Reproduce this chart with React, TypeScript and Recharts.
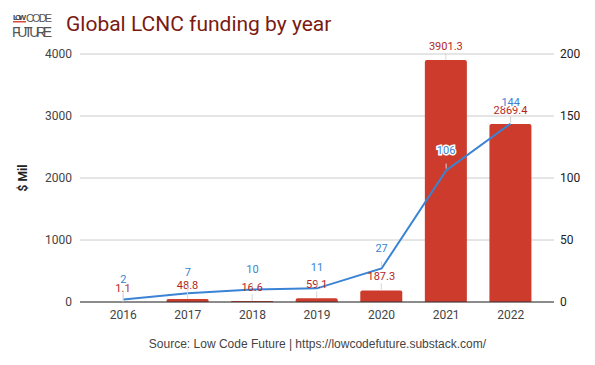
import { ComposedChart, Bar, Line, XAxis, YAxis, CartesianGrid, LabelList } from "recharts";

const years = ["2016", "2017", "2018", "2019", "2020", "2021", "2022"];
const fundingMil = [1.1, 48.8, 16.6, 59.1, 187.3, 3901.3, 2869.4];
const dealCount = [2, 7, 10, 11, 27, 106, 144];
const leftTicks = [0, 1000, 2000, 3000, 4000];
const rightTicks = [0, 50, 100, 150, 200];

const data = years.map((year, i) => ({ year, funding: fundingMil[i], deals: dealCount[i] }));

const BAR_RED = "#cc3b2b";
const LINE_BLUE = "#3b83d4";
const FONT = "Roboto, Arial, sans-serif";

function BarLabel(props: any) {
  const { x, y, width, value } = props;
  const cx = x + width / 2;
  return (
    <g>
      <line x1={cx} x2={cx} y1={y} y2={y - 7} stroke="#d6d6d6" strokeWidth={1} />
      <text x={cx} y={y - 10} textAnchor="middle" fontSize={11} fill="#b3261e" fontFamily={FONT}>
        {value}
      </text>
    </g>
  );
}

function LineLabel(props: any) {
  const { x, y, value } = props;
  return (
    <g>
      <line x1={x} x2={x} y1={y - 2} y2={y - 7} stroke="#d6d6d6" strokeWidth={1} />
      <text
        x={x}
        y={y - 17}
        textAnchor="middle"
        fontSize={11}
        fill={LINE_BLUE}
        stroke="#fff"
        strokeWidth={3}
        paintOrder="stroke"
        fontFamily={FONT}
      >
        {value}
      </text>
    </g>
  );
}

export default function App() {
  return (
    <div style={{ position: "absolute", left: 0, top: 0, width: 595, height: 365, background: "#fff", fontFamily: FONT }}>
      <svg width={60} height={44} style={{ position: "absolute", left: 0, top: 0 }}>
        <text x={13} y={20} fontSize={8} fontWeight="bold" fill="#444" fontFamily="Liberation Sans Narrow, Arial" textLength={13}>
          LOW
        </text>
        <rect x={13} y={21} width={13} height={1.5} fill="#d9483b" />
        <text x={26} y={22} fontSize={11} fill="#555" fontFamily="Liberation Sans Narrow, Arial" textLength={26}>
          CODE
        </text>
        <text x={12} y={37} fontSize={14} fill="#555" fontFamily="Liberation Sans Narrow, Arial" textLength={40}>
          FUTURE
        </text>
      </svg>
      <div
        style={{
          position: "absolute",
          left: 66,
          top: 12,
          fontSize: 21,
          color: "#7a1a12",
          fontFamily: FONT,
          whiteSpace: "nowrap",
        }}
      >
        Global LCNC funding by year
      </div>
      <ComposedChart
        width={595}
        height={365}
        data={data}
        margin={{ top: 54, right: 0, left: 0, bottom: 33 }}
        barSize={42}
      >
        <CartesianGrid vertical={false} stroke="#cccccc" yAxisId="left" />
        <XAxis
          dataKey="year"
          tickLine={false}
          axisLine={{ stroke: "#333", strokeWidth: 1 }}
          tick={{ fontSize: 12, fill: "#444", fontFamily: FONT }}
          padding={{ left: 11, right: 11 }}
          height={30}
        />
        <YAxis
          yAxisId="left"
          domain={[0, 4000]}
          ticks={leftTicks}
          width={80}
          axisLine={false}
          tickLine={false}
          tick={{ fontSize: 12, fill: "#444", fontFamily: FONT }}
          label={{
            value: "$ Mil",
            angle: -90,
            position: "insideLeft",
            offset: 23,
            style: { fontSize: 12, fontWeight: "bold", fill: "#222", fontFamily: FONT, textAnchor: "middle" },
          }}
        />
        <YAxis
          yAxisId="right"
          orientation="right"
          domain={[0, 200]}
          ticks={rightTicks}
          width={41}
          axisLine={false}
          tickLine={false}
          tickMargin={0}
          tick={{ fontSize: 12, fill: "#222", fontFamily: FONT, textAnchor: "start" }}
        />
        <Bar yAxisId="left" dataKey="funding" fill={BAR_RED} radius={[2, 2, 0, 0]} isAnimationActive={false}>
          <LabelList dataKey="funding" content={BarLabel} />
        </Bar>
        <Line
          yAxisId="right"
          dataKey="deals"
          type="linear"
          stroke={LINE_BLUE}
          strokeWidth={2}
          dot={false}
          isAnimationActive={false}
        >
          <LabelList dataKey="deals" content={LineLabel} />
        </Line>
      </ComposedChart>
      <div
        style={{
          position: "absolute",
          left: 0,
          width: 635,
          top: 337,
          textAlign: "center",
          fontSize: 12,
          color: "#444",
          fontFamily: "Arial, Liberation Sans, sans-serif",
        }}
      >
        Source: Low Code Future | https://lowcodefuture.substack.com/
      </div>
    </div>
  );
}
